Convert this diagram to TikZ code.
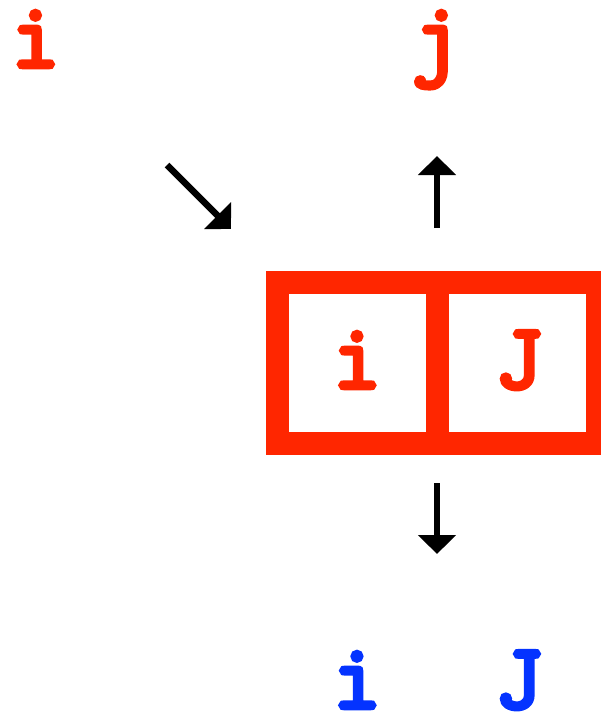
\documentclass[tikz,border=0pt]{standalone}
\usepackage{fontspec}
\newfontfamily\lettermono[FakeBold=5]{Latin Modern Mono}
\usetikzlibrary{arrows.meta}

\definecolor{letterred}{RGB}{255,38,0}
\definecolor{letterblue}{RGB}{4,51,255}

\tikzset{
    letter/.style={font=\fontsize{93}{93}\lettermono, inner sep=0pt, anchor=base},
    cell/.style={draw=letterred, line width=23pt, minimum width=160pt, minimum height=161pt, inner sep=0pt},
    bigarrow/.style={line width=6.5pt, -{Triangle[length=19pt, width=37pt]}}
}

\begin{document}
\begin{tikzpicture}[x=1pt, y=-1pt]
    \useasboundingbox (0,0) rectangle (601,713);

    % Letters on top
    \node[letter, text=letterred] (topi) at (35.5,67) {i};
    \node[letter, text=letterred] (topj) at (436,67) {j};

    % The two cells, sharing the middle wall
    \node[cell] (celli) at (357,363.25) {};
    \node[cell] (cellj) at (517,363.25) {};
    \node[letter, text=letterred] (midi) at (357,388) {i};
    \node[letter, text=letterred] (midj) at (519,388) {J};

    % Letters at the bottom
    \node[letter, text=letterblue] (boti) at (357,708) {i};
    \node[letter, text=letterblue] (botj) at (519,708) {J};

    % Arrows
    \coordinate (infrom) at (167,165);
    \coordinate (into) at (231,229);
    \coordinate (upfrom) at (437,228);
    \coordinate (upto) at (437,156);
    \coordinate (downfrom) at (437,483);
    \coordinate (downto) at (437,554);
    \draw[bigarrow] (infrom) -- (into);
    \draw[bigarrow] (upfrom) -- (upto);
    \draw[bigarrow] (downfrom) -- (downto);

\end{tikzpicture}
\end{document}
